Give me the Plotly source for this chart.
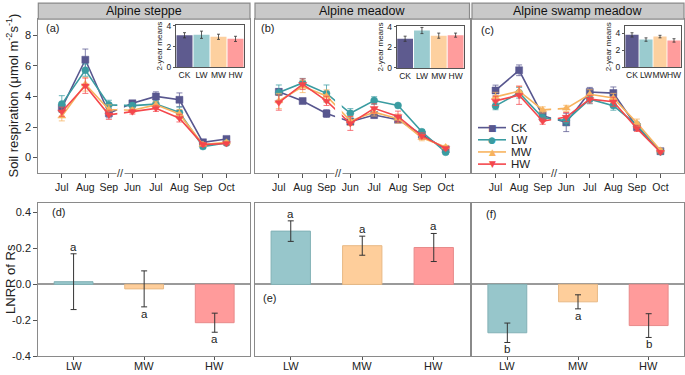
import plotly.graph_objects as go

W, H = 685, 375

months = ["Jul", "Aug", "Sep", "Jun", "Jul", "Aug", "Sep", "Oct"]
treatments = ["CK", "LW", "MW", "HW"]
sites = ["Alpine steppe", "Alpine meadow", "Alpine swamp meadow"]
top_tags = ["(a)", "(b)", "(c)"]
low_tags = ["(d)", "(e)", "(f)"]

# Soil respiration, per site, per treatment
steppe_CK = [3.25, 6.4, 2.9, 3.55, 4.0, 3.78, 1.0, 1.22]
steppe_LW = [3.5, 5.72, 3.45, 3.4, 3.5, 2.95, 0.72, 0.95]
steppe_MW = [2.7, 4.8, 3.15, 3.1, 3.45, 2.85, 0.85, 1.0]
steppe_HW = [3.0, 4.7, 2.8, 3.0, 3.22, 2.58, 0.85, 0.92]
steppe_CK_err = [0.3, 0.7, 0.3, 0.15, 0.3, 0.45, 0.15, 0.12]
steppe_LW_err = [0.55, 0.4, 0.3, 0.15, 0.2, 0.35, 0.12, 0.1]
steppe_MW_err = [0.3, 0.45, 0.3, 0.15, 0.2, 0.3, 0.12, 0.1]
steppe_HW_err = [0.3, 0.5, 0.3, 0.15, 0.2, 0.25, 0.12, 0.1]

meadow_CK = [4.3, 3.7, 2.88, 2.35, 2.78, 2.48, 1.5, 0.55]
meadow_LW = [4.25, 4.88, 4.2, 2.9, 3.73, 3.41, 1.69, 0.35]
meadow_MW = [3.7, 4.65, 4.03, 2.4, 2.97, 2.55, 1.3, 0.7]
meadow_HW = [3.6, 4.8, 3.71, 2.23, 3.22, 2.69, 1.42, 0.6]
meadow_CK_err = [0.2, 0.15, 0.25, 0.2, 0.2, 0.15, 0.15, 0.1]
meadow_LW_err = [0.5, 0.3, 0.55, 0.3, 0.25, 0.1, 0.15, 0.1]
meadow_MW_err = [0.5, 0.4, 0.4, 0.3, 0.25, 0.3, 0.2, 0.1]
meadow_HW_err = [0.5, 0.35, 0.3, 0.45, 0.3, 0.35, 0.2, 0.1]

swamp_CK = [4.39, 5.71, 2.74, 2.3, 4.29, 4.22, 2.0, 0.42]
swamp_LW = [3.38, 4.24, 2.6, 2.42, 3.82, 3.4, 2.12, 0.38]
swamp_MW = [3.97, 4.35, 3.12, 3.22, 4.14, 3.9, 2.27, 0.48]
swamp_HW = [3.71, 4.08, 2.38, 2.65, 3.82, 3.65, 1.91, 0.35]
swamp_CK_err = [0.35, 0.35, 0.25, 0.6, 0.3, 0.4, 0.2, 0.1]
swamp_LW_err = [0.25, 0.35, 0.2, 0.3, 0.3, 0.3, 0.2, 0.1]
swamp_MW_err = [0.3, 0.3, 0.2, 0.2, 0.3, 0.3, 0.25, 0.1]
swamp_HW_err = [0.3, 0.6, 0.2, 0.3, 0.25, 0.3, 0.2, 0.1]

# 2-year means (insets)
steppe_means = [3.1, 3.15, 2.95, 2.75]
steppe_means_err = [0.25, 0.35, 0.25, 0.25]
meadow_means = [2.85, 3.65, 3.15, 3.2]
meadow_means_err = [0.25, 0.3, 0.25, 0.2]
swamp_means = [3.8, 3.25, 3.6, 3.15]
swamp_means_err = [0.25, 0.2, 0.15, 0.2]

# LNRR of Rs
warm_levels = ["LW", "MW", "HW"]
steppe_lnrr = [0.015, -0.025, -0.213]
steppe_lnrr_err = [0.155, 0.1, 0.053]
meadow_lnrr = [0.296, 0.215, 0.205]
meadow_lnrr_err = [0.057, 0.053, 0.078]
swamp_lnrr = [-0.269, -0.097, -0.229]
swamp_lnrr_err = [0.054, 0.039, 0.066]
steppe_letters = ["a", "a", "a"]
meadow_letters = ["a", "a", "a"]
swamp_letters = ["b", "a", "b"]

series = [
    [steppe_CK, steppe_LW, steppe_MW, steppe_HW],
    [meadow_CK, meadow_LW, meadow_MW, meadow_HW],
    [swamp_CK, swamp_LW, swamp_MW, swamp_HW],
]
series_err = [
    [steppe_CK_err, steppe_LW_err, steppe_MW_err, steppe_HW_err],
    [meadow_CK_err, meadow_LW_err, meadow_MW_err, meadow_HW_err],
    [swamp_CK_err, swamp_LW_err, swamp_MW_err, swamp_HW_err],
]
means = [steppe_means, meadow_means, swamp_means]
means_err = [steppe_means_err, meadow_means_err, swamp_means_err]
lnrr = [steppe_lnrr, meadow_lnrr, swamp_lnrr]
lnrr_err = [steppe_lnrr_err, meadow_lnrr_err, swamp_lnrr_err]
letters = [steppe_letters, meadow_letters, swamp_letters]

line_colors = ["#58578F", "#3A9CA1", "#F7B35F", "#F4474C"]
err_colors = ["rgba(88,87,143,0.75)", "rgba(58,156,161,0.75)", "rgba(247,179,95,0.75)", "rgba(244,71,76,0.75)"]
symbols = ["square", "circle", "triangle-up", "triangle-down"]
legend_glyphs = ["\u25a0", "\u25cf", "\u25b2", "\u25bc"]
inset_colors = ["#5E5B8F", "#9ACBCF", "#FDD09F", "#FF9C9C"]
low_colors = ["#97C6CB", "#FECE9B", "#FF9B9B"]
low_line = ["#82B1B6", "#E8B985", "#E88A8A"]

FONT = "Liberation Sans, Arial, sans-serif"
FRAME = "#8A8A8A"

# panel pixel boxes
panel_x = [(38.3, 250.0), (255.0, 469.5), (472.0, 684.0)]
top_y = (15.5, 173.5)
low_y = (204.5, 362.0)
inset_box = [(176.0, 244.0, 21.5, 65.0), (396.7, 464.0, 22.5, 65.7), (625.0, 681.0, 22.7, 65.0)]
inset_range = [4.1, 4.1, 4.83]


def px(x):
    return x / W


def py(y):
    return 1 - y / H


fig = go.Figure()
layout = dict(
    width=W, height=H, margin=dict(l=0, r=0, t=0, b=0),
    paper_bgcolor="white", plot_bgcolor="white",
    font=dict(family=FONT, size=11, color="#222"),
    showlegend=False,
    bargap=0.06,
)
shapes = []
annotations = []

for p in range(3):
    # ---- top main panel ----
    i_main = p + 1
    xa = "x" if i_main == 1 else f"x{i_main}"
    ya = "y" if i_main == 1 else f"y{i_main}"
    for t in range(4):
        fig.add_trace(go.Scatter(
            x=list(range(len(months))), y=series[p][t],
            error_y=dict(type="data", array=series_err[p][t], color=err_colors[t], thickness=1, width=3),
            mode="lines+markers", name=treatments[t],
            line=dict(color=line_colors[t], width=1.6),
            marker=dict(symbol=symbols[t], size=7, color=line_colors[t],
                        line=dict(width=0.5, color=line_colors[t])),
            xaxis=xa, yaxis=ya,
        ))
    x0, x1 = panel_x[p]
    layout["xaxis" if i_main == 1 else f"xaxis{i_main}"] = dict(
        domain=[px(x0), px(x1)], range=[-1, 8], anchor=ya,
        tickvals=list(range(len(months))), ticktext=months,
        ticks="outside", ticklen=4, tickcolor="#555", showline=True, linecolor=FRAME, linewidth=1.2,
        mirror=True, showgrid=False, zeroline=False, tickfont=dict(size=10.5, color="#222"),
    )
    layout["yaxis" if i_main == 1 else f"yaxis{i_main}"] = dict(
        domain=[py(top_y[1]), py(top_y[0])], range=[-1, 9.06], anchor=xa,
        tickvals=[0, 2, 4, 6, 8], showticklabels=(p == 0), ticks="outside" if p == 0 else "",
        ticklen=4, tickcolor="#555", showline=True, linecolor=FRAME, linewidth=1.2, mirror=True,
        showgrid=False, zeroline=False, tickfont=dict(size=11, color="#222"),
    )
    # gap in lines at the axis break
    shapes.append(dict(type="rect", xref=xa, yref=ya, x0=2.36, x1=2.64, y0=-0.85, y1=9.0,
                       fillcolor="white", line=dict(width=0), layer="above"))
    annotations.append(dict(text="//", x=2.5, y=0, xref=xa, yref=f"{ya} domain", showarrow=False,
                            font=dict(size=11, color="#333"), bgcolor="white", borderpad=0,
                            xanchor="center", yanchor="middle"))
    # strip
    shapes.append(dict(type="rect", xref="paper", yref="paper", x0=px(x0), x1=px(x1),
                       y0=py(top_y[0]), y1=py(-1), fillcolor="#C9C9C9", line=dict(color=FRAME, width=1.2)))
    annotations.append(dict(text=sites[p], x=px((x0 + x1) / 2), y=py(7.5), xref="paper", yref="paper",
                            showarrow=False, font=dict(size=12.5, color="#111"), xanchor="center", yanchor="middle"))
    # tag
    tag_pos = [(44, 25), (259, 25), (479, 27)]
    annotations.append(dict(text=top_tags[p], x=px(tag_pos[p][0]), y=py(tag_pos[p][1]), xref="paper", yref="paper",
                            showarrow=False, font=dict(size=11, color="#222"), xanchor="left", yanchor="middle"))

    # ---- inset ----
    i_in = p + 4
    ix0, ix1, iy0, iy1 = inset_box[p]
    fig.add_trace(go.Bar(
        x=treatments, y=means[p],
        error_y=dict(type="data", array=means_err[p], color="#333", thickness=0.8, width=1.5),
        marker=dict(color=inset_colors, line=dict(width=0)),
        xaxis=f"x{i_in}", yaxis=f"y{i_in}",
    ))
    layout[f"xaxis{i_in}"] = dict(
        domain=[px(ix0), px(ix1)], anchor=f"y{i_in}", showline=True, linecolor="#555", linewidth=1, mirror=True,
        ticks="", tickangle=0, tickfont=dict(size=8.5, color="#222"), showgrid=False, zeroline=False,
    )
    layout[f"yaxis{i_in}"] = dict(
        domain=[py(iy1), py(iy0)], range=[0, inset_range[p]], anchor=f"x{i_in}",
        tickvals=[0, 2, 4], ticks="outside", ticklen=2, tickcolor="#555",
        showline=True, linecolor="#555", linewidth=1, mirror=True,
        tickfont=dict(size=8.5, color="#222"), showgrid=False, zeroline=False,
        title=dict(text="2-year means", font=dict(size=8, color="#222"), standoff=2),
    )

    # ---- lower panel ----
    i_low = p + 7
    fig.add_trace(go.Bar(
        x=warm_levels, y=lnrr[p],
        error_y=dict(type="data", array=lnrr_err[p], color="#333", thickness=1, width=3),
        marker=dict(color=low_colors, line=dict(color=low_line, width=1)),
        width=0.55, xaxis=f"x{i_low}", yaxis=f"y{i_low}",
    ))
    layout[f"xaxis{i_low}"] = dict(
        domain=[px(x0), px(x1)], anchor=f"y{i_low}", range=[-0.5, 2.5], showticklabels=False,
        ticks="outside", ticklen=3, tickcolor="#555", showline=True, linecolor=FRAME, linewidth=1.2,
        mirror=True, showgrid=False, zeroline=False,
    )
    layout[f"yaxis{i_low}"] = dict(
        domain=[py(low_y[1]), py(low_y[0])], range=[-0.4, 0.452], anchor=f"x{i_low}",
        tickvals=[-0.4, -0.2, 0.0, 0.2, 0.4], ticktext=["-0.4", "-0.2", "0.0", "0.2", "0.4"],
        showticklabels=(p == 0), ticks="outside" if p == 0 else "", ticklen=4, tickcolor="#555",
        showline=True, linecolor=FRAME, linewidth=1.2, mirror=True, showgrid=False,
        zeroline=True, zerolinecolor="#9A9A9A", zerolinewidth=1.5, tickfont=dict(size=11, color="#222"),
    )
    for k in range(3):
        # category labels below the lower panels
        annotations.append(dict(text=warm_levels[k], x=warm_levels[k], y=py(371.5), xref=f"x{i_low}", yref="paper",
                                showarrow=False, xanchor="center", yanchor="middle",
                                font=dict(size=11, color="#222")))
        v = lnrr[p][k]
        e = lnrr_err[p][k]
        if v >= 0:
            annotations.append(dict(text=letters[p][k], x=warm_levels[k], y=v + e, xref=f"x{i_low}", yref=f"y{i_low}",
                                    showarrow=False, yanchor="bottom", yshift=-1, font=dict(size=11.5, color="#222")))
        else:
            annotations.append(dict(text=letters[p][k], x=warm_levels[k], y=v - e, xref=f"x{i_low}", yref=f"y{i_low}",
                                    showarrow=False, yanchor="top", yshift=1, font=dict(size=11.5, color="#222")))
    low_tag_pos = [(50, 214), (261, 302), (484, 216)]
    annotations.append(dict(text=low_tags[p], x=px(low_tag_pos[p][0]), y=py(low_tag_pos[p][1]), xref="paper", yref="paper",
                            showarrow=False, font=dict(size=11, color="#222"), xanchor="left", yanchor="middle"))

# legend (drawn in panel c)
leg_y = [127, 139.5, 152, 164.5]
for t in range(4):
    shapes.append(dict(type="line", xref="paper", yref="paper", x0=px(478), x1=px(506),
                       y0=py(leg_y[t]), y1=py(leg_y[t]), line=dict(color=line_colors[t], width=1.6)))
    annotations.append(dict(text=legend_glyphs[t], x=px(492), y=py(leg_y[t]), xref="paper", yref="paper",
                            showarrow=False, xanchor="center", yanchor="middle",
                            font=dict(size=9, color=line_colors[t], family="DejaVu Sans")))
    annotations.append(dict(text=treatments[t], x=px(509), y=py(leg_y[t]), xref="paper", yref="paper",
                            showarrow=False, xanchor="left", yanchor="middle",
                            font=dict(size=11.5, color="#222")))

# axis titles
annotations.append(dict(text="Soil respiration (\u03bcmol m<sup>-2</sup>s<sup>-1</sup>)", x=px(13), y=py(94),
                        xref="paper", yref="paper", showarrow=False, textangle=-90,
                        font=dict(size=13, color="#222"), xanchor="center", yanchor="middle"))
annotations.append(dict(text="LNRR of Rs", x=px(10.5), y=py(283), xref="paper", yref="paper", showarrow=False,
                        textangle=-90, font=dict(size=13, color="#222"), xanchor="center", yanchor="middle"))

layout["shapes"] = shapes
layout["annotations"] = annotations
fig.update_layout(**layout)
fig.write_html(
    "out.html",
    config={"displayModeBar": False},
    post_script="document.body.style.margin='0';document.body.style.padding='0';document.body.style.overflow='hidden';",
)
